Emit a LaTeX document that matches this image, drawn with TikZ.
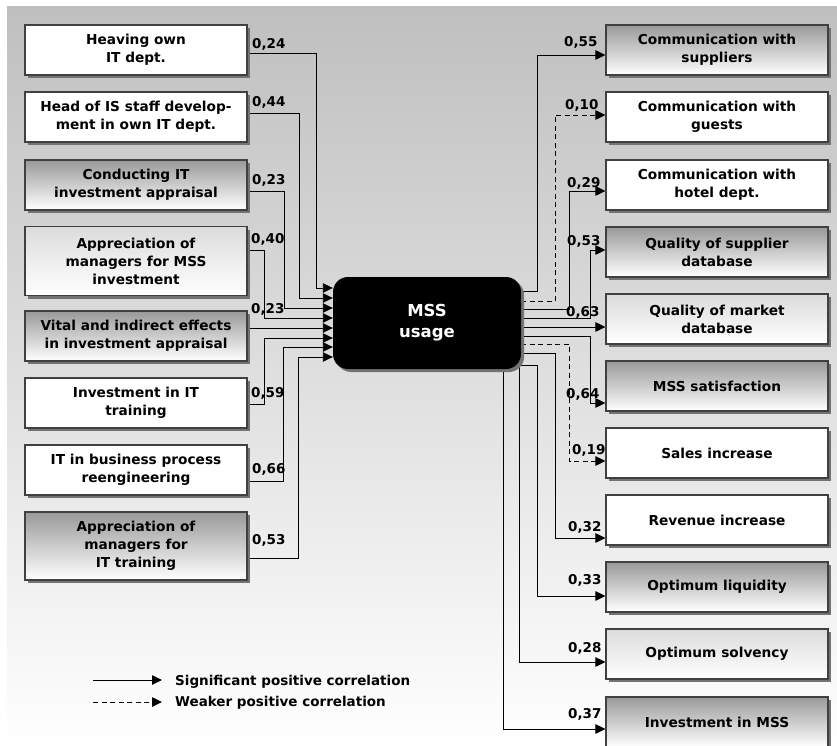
\documentclass[tikz,border=0pt]{standalone}
\usepackage{fontspec}
\setmainfont{DejaVu Sans}
\usetikzlibrary{arrows.meta, shadows}

\pgfdeclarelayer{backdrop}
\pgfdeclarelayer{wires}
\pgfsetlayers{backdrop,wires,main}

\tikzset{
    box/.style={draw=black!75, line width=1.1pt, fill=white,
        minimum width=222pt, minimum height=50pt, inner sep=2pt, align=center,
        font=\fontsize{13.7}{18}\selectfont\bfseries,
        drop shadow={opacity=1, fill=black!55, shadow xshift=3pt, shadow yshift=-3pt}},
    darkshade/.style={top color=black!40, middle color=black!9, bottom color=white},
    lightshade/.style={top color=black!14, middle color=black!4, bottom color=white},
    mssbox/.style={fill=black, text=white, rounded corners=15pt,
        minimum width=188pt, minimum height=92pt, align=center,
        font=\fontsize{16.5}{21}\selectfont\bfseries,
        drop shadow={opacity=1, fill=black!55, shadow xshift=3pt, shadow yshift=-3pt}},
    weight/.style={anchor=base west, inner sep=0pt, font=\fontsize{13.5}{16}\selectfont\bfseries},
    conn/.style={line width=0.9pt, -{Triangle[length=10pt, width=9.5pt]}},
    weak/.style={conn, dash pattern=on 5pt off 3.5pt},
}

\begin{document}
\begin{tikzpicture}[x=1pt, y=-1pt]

    % Columns
    \def\xl{136}   % left boxes, centre
    \def\xr{717}   % right boxes, centre

    \useasboundingbox (0,0) rectangle (837,746);

    % Background
    \begin{pgfonlayer}{backdrop}
        \shade[top color=black!25, bottom color=white] (7,7) rectangle (837,746);
    \end{pgfonlayer}

    % Centre
    \node[mssbox] (mss) at (427,323) {MSS\\usage};

    % Left boxes
    \node[box]                     (l1) at (\xl,50)  {Heaving own\\IT dept.};
    \node[box]                     (l2) at (\xl,117) {Head of IS staff develop-\\ment in own IT dept.};
    \node[box, darkshade]          (l3) at (\xl,185) {Conducting IT\\investment appraisal};
    \node[box, lightshade, minimum height=69pt] (l4) at (\xl,261) {Appreciation of\\managers for MSS\\investment};
    \node[box, darkshade]          (l5) at (\xl,336) {Vital and indirect effects\\in investment appraisal};
    \node[box]                     (l6) at (\xl,403) {Investment in IT\\training};
    \node[box]                     (l7) at (\xl,470) {IT in business process\\reengineering};
    \node[box, darkshade, minimum height=68pt]  (l8) at (\xl,546) {Appreciation of\\managers for\\IT training};

    % Right boxes
    \node[box, darkshade]  (r1)  at (\xr,50)  {Communication with\\suppliers};
    \node[box]             (r2)  at (\xr,117) {Communication with\\guests};
    \node[box]             (r3)  at (\xr,185) {Communication with\\hotel dept.};
    \node[box, darkshade]  (r4)  at (\xr,252) {Quality of supplier\\database};
    \node[box, lightshade] (r5)  at (\xr,319) {Quality of market\\database};
    \node[box, darkshade]  (r6)  at (\xr,386) {MSS satisfaction};
    \node[box]             (r7)  at (\xr,453) {Sales increase};
    \node[box]             (r8)  at (\xr,520) {Revenue increase};
    \node[box, darkshade]  (r9)  at (\xr,587) {Optimum liquidity};
    \node[box, lightshade] (r10) at (\xr,654) {Optimum solvency};
    \node[box, darkshade]  (r11) at (\xr,722) {Investment in MSS};

    \begin{pgfonlayer}{wires}
        % Into MSS usage
        \draw[conn] (l1.east |- 0,53)  -| (316,288) -- (mss.west |- 0,288);
        \draw[conn] (l2.east |- 0,113) -| (299,298) -- (mss.west |- 0,298);
        \draw[conn] (l3.east |- 0,191) -| (284,308) -- (mss.west |- 0,308);
        \draw[conn] (l4.east |- 0,250) -| (264,318) -- (mss.west |- 0,318);
        \draw[conn] (l5.east |- 0,328) -- (mss.west |- 0,328);
        \draw[conn] (l6.east |- 0,404) -| (264,338) -- (mss.west |- 0,338);
        \draw[conn] (l7.east |- 0,481) -| (283,347) -- (mss.west |- 0,347);
        \draw[conn] (l8.east |- 0,558) -| (298,357) -- (mss.west |- 0,357);

        % Out of MSS usage
        \draw[conn] (mss.east |- 0,291) -| (537,55)  -- (r1.west |- 0,55);
        \draw[weak] (mss.east |- 0,301) -| (555,115) -- (r2.west |- 0,115);
        \draw[conn] (mss.east |- 0,309) -| (569,191) -- (r3.west |- 0,191);
        \draw[conn] (mss.east |- 0,318) -| (590,250) -- (r4.west |- 0,250);
        \draw[conn] (mss.east |- 0,327) -- (r5.west |- 0,327);
        \draw[conn] (mss.east |- 0,336) -| (590,403) -- (r6.west |- 0,403);
        \draw[weak] (mss.east |- 0,344) -| (569,461) -- (r7.west |- 0,461);
        \draw[conn] (mss.east |- 0,353) -| (555,538) -- (r8.west |- 0,538);
        \draw[conn] (mss.center |- 0,365) -| (537,596) -- (r9.west |- 0,596);
        \draw[conn] (mss.center -| 519,0) |- (r10.west |- 0,662);
        \draw[conn] (mss.center -| 503,0) |- (r11.west |- 0,729);
    \end{pgfonlayer}

    % Weights, left
    \node[weight] (wl1) at (252,49)  {0,24};
    \node[weight] (wl2) at (252,107) {0,44};
    \node[weight] (wl3) at (252,184) {0,23};
    \node[weight] (wl4) at (251,243) {0,40};
    \node[weight] (wl5) at (251,313) {0,23};
    \node[weight] (wl6) at (251,397) {0,59};
    \node[weight] (wl7) at (252,473) {0,66};
    \node[weight] (wl8) at (252,544) {0,53};

    % Weights, right
    \node[weight] (wr1)  at (564,47)  {0,55};
    \node[weight] (wr2)  at (565,110) {0,10};
    \node[weight] (wr3)  at (567,187) {0,29};
    \node[weight] (wr4)  at (567,245) {0,53};
    \node[weight] (wr5)  at (566,316) {0,63};
    \node[weight] (wr6)  at (566,398) {0,64};
    \node[weight] (wr7)  at (572,454) {0,19};
    \node[weight] (wr8)  at (568,531) {0,32};
    \node[weight] (wr9)  at (568,584) {0,33};
    \node[weight] (wr10) at (568,652) {0,28};
    \node[weight] (wr11) at (568,718) {0,37};

    % Legend
    \coordinate (sig a) at (93,680);
    \coordinate (sig b) at (162,680);
    \coordinate (wkr a) at (93,702);
    \coordinate (wkr b) at (162,702);
    \draw[conn] (sig a) -- (sig b);
    \draw[weak] (wkr a) -- (wkr b);
    \node[weight] (sig) at (175,685) {Significant positive correlation};
    \node[weight] (wkr) at (175,706) {Weaker positive correlation};

\end{tikzpicture}
\end{document}
